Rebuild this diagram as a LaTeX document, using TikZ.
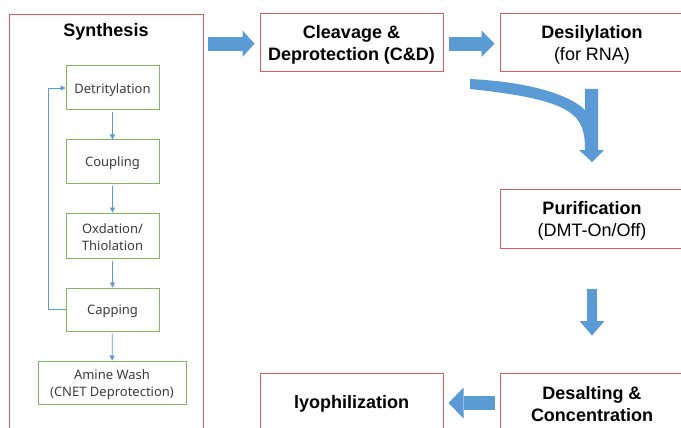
\documentclass[tikz,border=0pt]{standalone}
\usepackage{fontspec}
\setmainfont{Liberation Sans}
\newfontfamily\greenfont{Noto Sans}
\usetikzlibrary{arrows.meta,calc}
\definecolor{boxred}{RGB}{224,92,92}
\definecolor{boxgreen}{RGB}{128,182,96}
\definecolor{arrblue}{RGB}{91,155,213}
\definecolor{txtgray}{RGB}{60,60,60}
\begin{document}
\begin{tikzpicture}[x=1pt,y=-1pt,
  redbox/.style={draw=boxred, line width=1pt, inner sep=0pt},
  redtext/.style={align=center, inner sep=0pt, yshift=-2pt,
    font=\fontsize{18}{22}\selectfont},
  greenbox/.style={draw=boxgreen, line width=1pt, inner sep=0pt},
  greentext/.style={align=center, inner sep=0pt, yshift=-2pt,
    text=txtgray, font=\greenfont\fontsize{13}{17}\selectfont},
  titletext/.style={font=\bfseries\fontsize{18}{22}\selectfont},
  blockarrow/.style={draw=arrblue, line width=#1},
  thinarrow/.style={draw=arrblue, line width=0.8pt, -{Triangle[width=5pt,length=5pt]}}
]
\useasboundingbox (0,0) rectangle (681,428);
\fill[white] (0,0) rectangle (681,428);
\clip (0,0) rectangle (681,428);

% Synthesis frame
\node[redbox, minimum width=194pt, minimum height=430pt, anchor=north west] (synth) at (9,14) {};
\node[titletext] (synthT) at (106,32) {Synthesis};

% green steps
\node[greenbox, minimum width=93pt, minimum height=44pt,
  label={[greentext]center:{Detritylation}}] (det) at (112.5,88) {};
\node[greenbox, minimum width=93pt, minimum height=43pt,
  label={[greentext]center:{Coupling}}] (coup) at (112.5,161.5) {};
\node[greenbox, minimum width=93pt, minimum height=45pt,
  label={[greentext]center:{Oxdation/\\Thiolation}}] (oxd) at (112.5,235.5) {};
\node[greenbox, minimum width=93pt, minimum height=43pt,
  label={[greentext]center:{Capping}}] (cap) at (112.5,309.5) {};
\node[greenbox, minimum width=148pt, minimum height=43pt,
  label={[greentext]center:{Amine Wash\\(CNET Deprotection)}}] (amine) at (112,382.5) {};

\draw[thinarrow, shorten <=2pt] (det) -- (coup);
\draw[thinarrow, shorten <=2pt] (coup) -- (oxd);
\draw[thinarrow, shorten <=2pt] (oxd) -- (cap);
\draw[thinarrow, shorten <=2pt] (cap) -- (amine);
\draw[thinarrow] (cap.west) -- ++(-17,0) |- (det.west);

% red process boxes
\node[redbox, minimum width=183pt, minimum height=58pt,
  label={[redtext]center:{\textbf{Cleavage \&}\\\textbf{Deprotection (C\&D)}}}] (cleav) at (351.5,43) {};
\node[redbox, minimum width=184pt, minimum height=58pt,
  label={[redtext]center:{\textbf{Desilylation}\\(for RNA)}}] (desil) at (592,43) {};
\node[redbox, minimum width=184pt, minimum height=59pt,
  label={[redtext]center:{\textbf{Purification}\\(DMT-On/Off)}}] (purif) at (592,218.5) {};
\node[redbox, minimum width=184pt, minimum height=58pt,
  label={[redtext]center:{\textbf{Desalting \&}\\\textbf{Concentration}}}] (desalt) at (592,402) {};
\node[redbox, minimum width=183pt, minimum height=58pt,
  label={[redtext]center:{\textbf{lyophilization}}}] (lyo) at (351.5,402) {};

% block arrows
\draw[blockarrow=14pt, -{Triangle[width=26.5pt,length=12pt,line width=0pt]}]
  ($(synth.east |- cleav.west)+(4,0.7)$) -- ($(cleav.west)+(-5,0.7)$);
\draw[blockarrow=14pt, -{Triangle[width=26.5pt,length=13pt,line width=0pt]}]
  ($(cleav.east)+(5,0.7)$) -- ($(desil.west)+(-5,0.7)$);
\draw[blockarrow=10pt, -{Triangle[width=25pt,length=14.5pt,line width=0pt]}]
  ($(purif.south)+(0,40)$) -- ($(desalt.north)+(0,-37)$);
\draw[blockarrow=14pt, -{Triangle[width=31pt,length=15pt,line width=0pt]}]
  ($(desalt.west)+(-5,1)$) -- ($(lyo.east)+(5,1)$);

% curved arrow from C&D to Purification
\fill[arrblue] (470,79) .. controls (530,82) and (570,95) .. (585,110)
  -- (585,89) -- (598,89) -- (598,150) -- (604,150) -- (592,162) -- (579,150) -- (585,150)
  .. controls (585,115) and (575,100) .. (470,89) -- cycle;
\end{tikzpicture}
\end{document}
